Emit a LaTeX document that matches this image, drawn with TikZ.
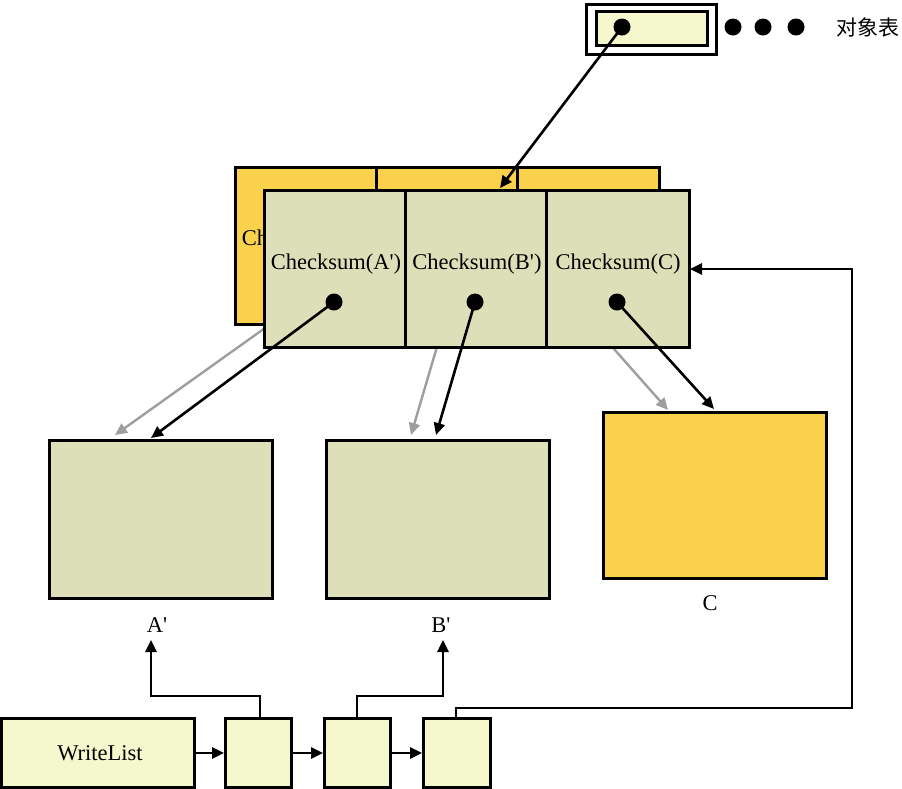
\documentclass[tikz,border=0pt]{standalone}
\usepackage{fontspec}
\setmainfont{Liberation Serif}
\newfontfamily\cjkfont{Noto Sans CJK SC}
\usetikzlibrary{arrows.meta}
\definecolor{cellgreen}{HTML}{DDDFB8}
\definecolor{oldyellow}{HTML}{F9D14A}
\definecolor{paleyellow}{HTML}{F5F7CC}
\newcommand{\pr}{\textquotesingle}
\begin{document}
\begin{tikzpicture}[x=1pt,y=-1pt,
  box/.style={draw=black,line width=3pt,inner sep=0pt,anchor=north west},
  greenbox/.style={box,fill=cellgreen},
  yellowbox/.style={box,fill=oldyellow},
  palebox/.style={box,fill=paleyellow},
  txt/.style={font=\fontsize{22.5}{26}\selectfont,inner sep=0pt},
  ptr/.style={line width=2.6pt,-{Triangle[length=12pt,width=11pt]}},
  oldptr/.style={line width=2.4pt,draw=black!38,-{Triangle[length=12pt,width=11pt]}},
  link/.style={line width=2.6pt,-{Triangle[length=12pt,width=11pt]}},
  dot/.style={circle,fill=black,inner sep=0pt,minimum size=17pt}]
\useasboundingbox (0,0) rectangle (902,788);

% object table entry
\node[box,minimum width=130pt,minimum height=50pt] (otab) at (585,3) {};
\node[palebox,minimum width=111pt,minimum height=34pt] (oslot) at (595,10) {};
\node[dot] (odot) at (622,27) {};
\node[dot] (e1) at (733,27) {};
\node[dot] (e2) at (763,27) {};
\node[dot] (e3) at (796,27) {};
\node[font=\cjkfont\fontsize{21}{24}\selectfont,inner sep=0pt] (otitle) at (868,27) {对象表};

% previous checksum block
\node[yellowbox,minimum width=141pt,minimum height=157pt] (oa) at (234,166) {};
\node[yellowbox,minimum width=141pt,minimum height=157pt] (ob) at (375,166) {};
\node[yellowbox,minimum width=142pt,minimum height=157pt] (oc) at (516,166) {};
\node[txt] (oatext) at (305,240) {Checksum(A)};
\node[txt] (obtext) at (446,240) {Checksum(B)};
\node[txt] (octext) at (587,240) {Checksum(C)};

% old pointers
\coordinate (ga) at (272,323);
\coordinate (gb) at (444,323);
\coordinate (gc) at (591,323);
\coordinate (ta) at (115,435);
\coordinate (tb) at (411,435);
\coordinate (tc) at (668,410);
\draw[oldptr] (ga) -- (ta);
\draw[oldptr] (gb) -- (tb);
\draw[oldptr] (gc) -- (tc);

% current checksum block
\node[greenbox,minimum width=141pt,minimum height=157pt] (ca) at (263,189) {};
\node[greenbox,minimum width=141pt,minimum height=157pt] (cb) at (404,189) {};
\node[greenbox,minimum width=143pt,minimum height=157pt] (cc) at (545,189) {};
\node[txt] (catext) at (336,264) {Checksum(A\pr)};
\node[txt] (cbtext) at (477,264) {Checksum(B\pr)};
\node[txt] (cctext) at (618,264) {Checksum(C)};
\node[dot] (da) at (334,302) {};
\node[dot] (db) at (475,302) {};
\node[dot] (dc) at (617,302) {};

% data blocks
\node[greenbox,minimum width=223pt,minimum height=158pt] (ba) at (48,439) {};
\node[greenbox,minimum width=223pt,minimum height=158pt] (bb) at (325,439) {};
\node[yellowbox,minimum width=223pt,minimum height=166pt] (bc) at (602,411) {};
\node[txt] (la) at (157,625) {A\pr};
\node[txt] (lb) at (441,625) {B\pr};
\node[txt] (lc) at (710,603) {C};

% current pointers
\coordinate (pa) at (151,438);
\coordinate (pb) at (436,435);
\coordinate (pc) at (714,409);
\coordinate (pt) at (500,188);
\draw[ptr] (odot.center) -- (pt);
\draw[ptr] (da.center) -- (pa);
\draw[ptr] (db.center) -- (pb);
\draw[ptr] (dc.center) -- (pc);

% write list
\node[palebox,minimum width=193pt,minimum height=69pt] (wl) at (0,717) {};
\node[txt] (wltext) at (100,753) {WriteList};
\node[palebox,minimum width=66pt,minimum height=69pt] (w1) at (224,717) {};
\node[palebox,minimum width=66pt,minimum height=69pt] (w2) at (323,717) {};
\node[palebox,minimum width=67pt,minimum height=69pt] (w3) at (422,717) {};
\draw[link] (wl.east) -- (w1.west);
\draw[link] (w1.east) -- (w2.west);
\draw[link] (w2.east) -- (w3.west);

\coordinate (ua) at (151,640);
\coordinate (ub) at (443,640);
\coordinate (uc) at (690,269);
\draw[link] (w1.north -| 260,0) |- (151,696) -- (ua);
\draw[link] (w2.north -| 357,0) |- (443,696) -- (ub);
\draw[link] (w3.north -| 456,0) |- (852,708) |- (uc);
\end{tikzpicture}
\end{document}
